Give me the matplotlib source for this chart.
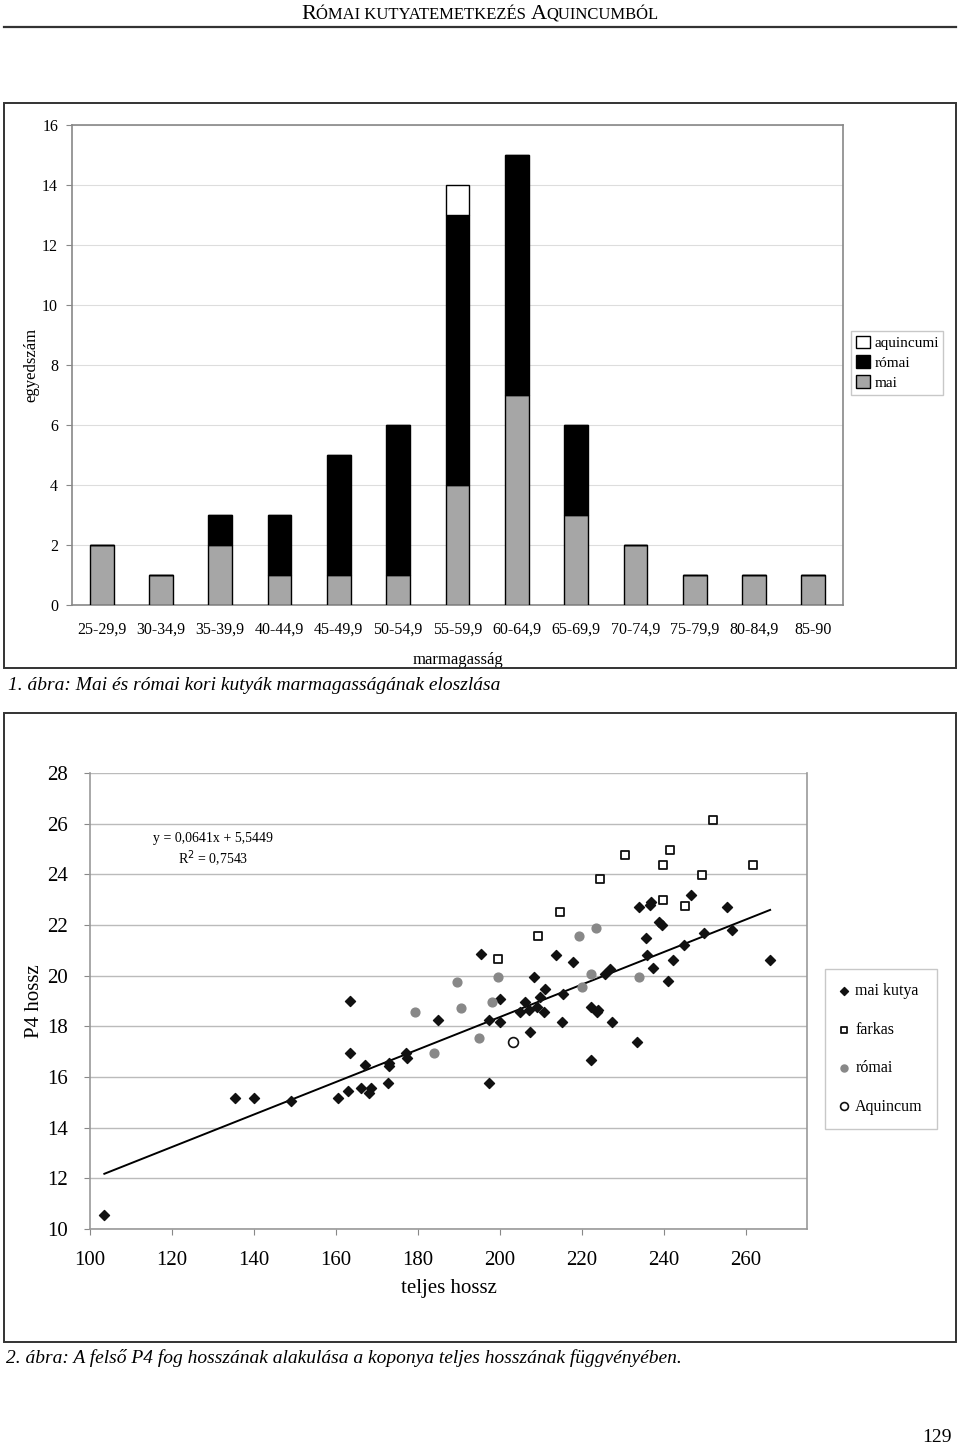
import matplotlib.pyplot as plt
from matplotlib.patches import Rectangle
from matplotlib.lines import Line2D

# bar chart data
categories = ['25-29,9', '30-34,9', '35-39,9', '40-44,9', '45-49,9', '50-54,9', '55-59,9',
              '60-64,9', '65-69,9', '70-74,9', '75-79,9', '80-84,9', '85-90']
mai = [2, 1, 2, 1, 1, 1, 4, 7, 3, 2, 1, 1, 1]
romai = [0, 0, 1, 2, 4, 5, 9, 8, 3, 0, 0, 0, 0]
aquincumi = [0, 0, 0, 0, 0, 0, 1, 0, 0, 0, 0, 0, 0]

# scatter data
mai_kutya_x = [103.4, 135.4, 140, 149, 160.5, 163.5, 163.5, 163, 166.2, 167, 168.1, 168.6,
               172.7, 173, 173, 177.1, 177.3, 185, 195.4, 197.5, 197.5, 200, 200, 204.9,
               206.1, 207.1, 207.3, 208.3, 209, 209.8, 210.7, 211, 213.8, 215.2, 215.4, 218,
               222.2, 222.2, 223.7, 224.1, 225.6, 227, 227.3, 233.6, 234, 235.6, 236, 236.6,
               237, 237.3, 238.8, 239.5, 241, 242.4, 244.9, 246.8, 249.8, 255.4, 256.6, 266]
mai_kutya_y = [10.55, 15.17, 15.17, 15.05, 15.17, 19.0, 16.95, 15.46, 15.56, 16.47, 15.37, 15.57,
               15.78, 16.55, 16.45, 16.95, 16.75, 18.25, 20.86, 15.78, 18.25, 18.17, 19.08, 18.57,
               18.96, 18.65, 17.78, 19.95, 18.76, 19.16, 18.57, 19.46, 20.8, 18.17, 19.28, 20.55,
               16.67, 18.76, 18.57, 18.65, 20.07, 20.27, 18.17, 17.38, 22.7, 21.5, 20.8, 22.8,
               22.9, 20.3, 22.1, 22.0, 19.8, 20.6, 21.2, 23.2, 21.7, 22.7, 21.8, 20.6]
farkas_x = [199.5, 209.3, 214.6, 224.4, 230.5, 239.8, 241.5, 239.8, 245.2, 249.3, 252, 261.8]
farkas_y = [20.65, 21.55, 22.5, 23.8, 24.77, 24.37, 24.96, 22.98, 22.75, 23.97, 26.15, 24.37]
romai_x = [179.3, 184, 189.6, 190.5, 195, 198, 199.5, 220, 222.2, 219.3, 223.4, 234.1]
romai_y = [18.57, 16.95, 19.75, 18.72, 17.55, 18.96, 19.95, 19.57, 20.07, 21.56, 21.88, 19.95]
aquincum_x = [203.3]
aquincum_y = [17.38]

slope = 0.0641
intercept = 5.5449
trend_x = [103.5, 266]

serif = 'Liberation Serif'
plt.rcParams['font.family'] = serif

W, H = 960, 1448
fig = plt.figure(figsize=(9.6, 14.48), dpi=100)


def fx(px):
    return px / W


def fy(py):
    return 1 - py / H


# page header in small caps
renderer = fig.canvas.get_renderer()
pieces = [('R', 16), ('ÓMAI KUTYATEMETKEZÉS ', 12), ('A', 16), ('QUINCUMBÓL', 12)]
widths = []
for s, size in pieces:
    t = fig.text(0, 0, s, fontsize=size)
    widths.append(t.get_window_extent(renderer).width)
    t.remove()
x0 = 480 - sum(widths) / 2
for (s, size), w in zip(pieces, widths):
    fig.text(fx(x0), fy(19), s, fontsize=size, va='baseline')
    x0 += w
fig.add_artist(Line2D([fx(4), fx(956)], [fy(27), fy(27)], color='#333333', lw=1.6))

# frames around the two figures
fig.add_artist(Rectangle((fx(4), fy(668)), fx(952), 565 / H, fill=False, ec='#333333', lw=1.4))
fig.add_artist(Rectangle((fx(4), fy(1342)), fx(952), 629 / H, fill=False, ec='#333333', lw=1.4))

# ---------- bar chart ----------
ax1 = fig.add_axes([fx(72), fy(605), fx(771), 480 / H])
pos = range(len(categories))
bottom2 = [m + r for m, r in zip(mai, romai)]
ax1.bar(pos, mai, width=0.4, color='#a6a6a6', edgecolor='black', lw=1, label='mai', zorder=3)
ax1.bar(pos, romai, width=0.4, bottom=mai, color='black', edgecolor='black', lw=1,
        label='római', zorder=3)
ax1.bar(pos, aquincumi, width=0.4, bottom=bottom2, color='white', edgecolor='black', lw=1,
        label='aquincumi', zorder=3)
ax1.set_xlim(-0.5, len(categories) - 0.5)
ax1.set_ylim(0, 16)
ax1.set_yticks(range(0, 17, 2))
ax1.set_xticks(pos)
ax1.set_xticklabels(categories, fontsize=11.5)
ax1.tick_params(axis='x', length=0, pad=12)
ax1.tick_params(axis='y', length=4, color='#888888', labelsize=11.5, pad=6)
ax1.yaxis.grid(True, color='#dddddd', lw=0.8, zorder=0)
for sp in ax1.spines.values():
    sp.set_color('#888888')
    sp.set_linewidth(1.2)
ax1.set_xlabel('marmagasság', fontsize=12, labelpad=10)
ax1.set_ylabel('egyedszám', fontsize=12, labelpad=2)
h, l = ax1.get_legend_handles_labels()
ax1.legend(h[::-1], l[::-1], loc='upper left', bbox_to_anchor=(1.011, 0.571), fontsize=11,
           frameon=True, fancybox=False, edgecolor='#bbbbbb', handlelength=0.9,
           handleheight=0.9, handletextpad=0.3, borderpad=0.3, labelspacing=0.35,
           borderaxespad=0)

fig.text(fx(8), fy(686), '1. ábra: Mai és római kori kutyák marmagasságának eloszlása',
         fontsize=14, style='italic', va='center')

# ---------- scatter ----------
ax2 = fig.add_axes([fx(90), fy(1229), fx(717), 456 / H])
ax2.scatter(mai_kutya_x, mai_kutya_y, marker='D', s=26, color='#111111', label='mai kutya',
            zorder=3)
ax2.scatter(farkas_x, farkas_y, marker='s', s=36, facecolor='white', edgecolor='#111111',
            lw=1.3, label='farkas', zorder=3)
ax2.scatter(romai_x, romai_y, marker='o', s=40, color='#888888', label='római', zorder=3)
ax2.scatter(aquincum_x, aquincum_y, marker='o', s=50, facecolor='white', edgecolor='#111111',
            lw=1.2, label='Aquincum', zorder=3)
trend_y = [slope * v + intercept for v in trend_x]
ax2.plot(trend_x, trend_y, color='black', lw=1.4, zorder=2)
ax2.set_xlim(100, 275)
ax2.set_ylim(10, 28)
ax2.set_xticks(range(100, 261, 20))
ax2.set_yticks(range(10, 29, 2))
ax2.tick_params(labelsize=15, length=4, color='#888888')
ax2.tick_params(axis='x', pad=12)
ax2.tick_params(axis='y', pad=12)
ax2.yaxis.grid(True, color='#bbbbbb', lw=1, zorder=0)
for sp in ax2.spines.values():
    sp.set_color('#999999')
    sp.set_linewidth(1.2)
ax2.spines['top'].set_visible(False)
ax2.set_xlabel('teljes hossz', fontsize=15, labelpad=6)
ax2.set_ylabel('P4 hossz', fontsize=15, labelpad=2)
ax2.text(0.172, 0.83, 'y = 0,0641x + 5,5449\nR$^2$ = 0,7543', transform=ax2.transAxes,
         ha='center', va='center', fontsize=10, linespacing=1.25)
ax2.legend(loc='upper left', bbox_to_anchor=(1.025, 0.57), fontsize=11.5, frameon=True,
           fancybox=False, edgecolor='#bbbbbb', handlelength=0.6, handletextpad=0.4,
           borderpad=0.9, labelspacing=1.4, borderaxespad=0, markerscale=0.8)

fig.text(fx(6), fy(1358),
         '2. ábra: A felső P4 fog hosszának alakulása a koponya teljes hosszának függvényében.',
         fontsize=14, style='italic', va='center')
fig.text(fx(952), fy(1437), '129', fontsize=14, ha='right', va='center')

fig.savefig('out.png', dpi=100)
